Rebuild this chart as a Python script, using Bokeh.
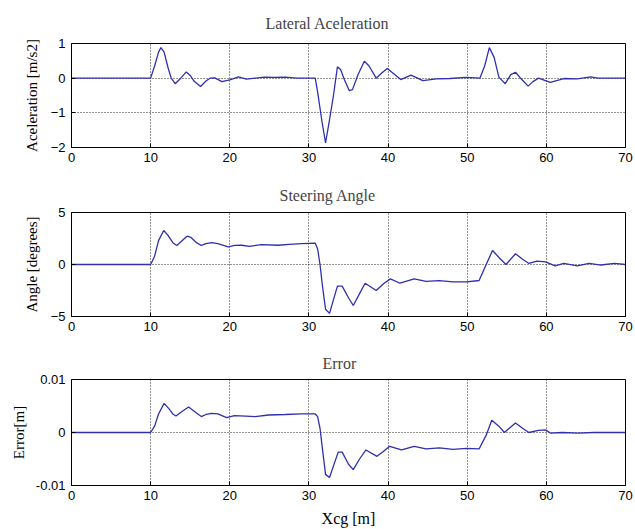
from bokeh.plotting import figure
from bokeh.layouts import column
from bokeh.models import Range1d, FixedTicker
from bokeh.embed import file_html
from bokeh.resources import INLINE

# Longitudinal position of the vehicle's centre of gravity [m]
acc_x = [0, 10, 10.5, 11.0, 11.3, 11.7, 12.2, 12.6, 13.1, 13.8, 14.5, 15.0, 15.5, 16.3, 17.0,
         17.5, 18.1, 19.0, 20.0, 21.1, 22.1, 23.2, 24.4, 25.5, 27.0, 28.5, 30.0, 30.8, 31.1,
         31.65, 32.1, 32.6, 33.1, 33.6, 34.0, 34.5, 35.1, 35.5, 36.2, 37.0, 37.6, 38.5, 39.2,
         39.9, 40.6, 41.6, 42.9, 44.4, 46.1, 47.8, 49.9, 51.6, 52.2, 52.8, 53.4, 54.0, 54.8,
         55.5, 56.1, 56.9, 57.7, 58.3, 59.0, 60.5, 62.2, 63.9, 65.6, 66.5, 70]
acc_y = [0, 0, 0.35, 0.75, 0.88, 0.75, 0.3, 0.0, -0.16, 0.0, 0.18, 0.08, -0.09, -0.24, -0.08,
         0.0, 0.01, -0.1, -0.05, 0.04, -0.03, 0.0, 0.03, 0.02, 0.03, 0.0, 0.0, 0.0, -0.4,
         -1.25, -1.87, -1.2, -0.5, 0.33, 0.25, -0.05, -0.36, -0.33, 0.1, 0.49, 0.35, 0.0, 0.15,
         0.28, 0.15, -0.04, 0.09, -0.07, -0.02, -0.01, 0.02, 0.0, 0.35, 0.88, 0.6, 0.03, -0.16,
         0.1, 0.17, -0.04, -0.23, -0.1, 0.0, -0.12, -0.01, -0.02, 0.04, 0.0, 0.0]

steer_x = [0, 10, 10.5, 11.0, 11.65, 12.2, 12.8, 13.3, 14.0, 14.6, 15.1, 15.8, 16.4, 17.0, 17.7,
           18.5, 19.8, 20.6, 21.5, 22.5, 24.0, 26.1, 27.5, 29.1, 30.8, 31.1, 31.4, 31.7, 32.1,
           32.6, 33.6, 34.2, 35.0, 35.6, 36.4, 37.1, 38.5, 39.5, 40.3, 41.5, 43.3, 44.8, 46.5,
           48.2, 49.9, 51.5, 52.4, 53.2, 54.1, 54.9, 56.1, 57.0, 57.8, 58.8, 59.9, 61.1, 62.2,
           63.9, 65.4, 66.9, 68.6, 70]
steer_y = [0, 0, 0.8, 2.3, 3.27, 2.8, 2.1, 1.83, 2.3, 2.72, 2.6, 2.1, 1.83, 2.0, 2.1,
           2.0, 1.7, 1.83, 1.85, 1.75, 1.92, 1.85, 1.93, 2.0, 2.05, 1.5, 0.0, -2.0, -4.3,
           -4.7, -2.08, -2.08, -3.2, -3.94, -2.8, -1.8, -2.5, -1.8, -1.38, -1.8, -1.38, -1.63, -1.55,
           -1.67, -1.67, -1.54, 0.0, 1.35, 0.6, 0.0, 1.03, 0.5, 0.1, 0.32, 0.25, -0.13, 0.1,
           -0.13, 0.1, -0.05, 0.1, 0.0]

err_x = [0, 10, 10.5, 11.0, 11.7, 12.3, 12.8, 13.2, 14.0, 14.8, 15.5, 16.4, 17.0, 17.7, 18.5,
         19.6, 20.6, 22.0, 23.2, 24.9, 27.0, 29.0, 30.8, 31.1, 31.4, 31.7, 32.1, 32.6, 33.7,
         34.2, 35.0, 35.6, 36.4, 37.2, 38.6, 39.4, 40.2, 41.7, 43.3, 44.8, 46.5, 48.2, 49.9,
         51.5, 52.4, 53.1, 54.0, 54.7, 56.1, 57.0, 57.8, 59.0, 59.9, 60.5, 62, 64, 66, 68, 70]
err_y = [0, 0, 0.0012, 0.0035, 0.0055, 0.0045, 0.0035, 0.0031, 0.0040, 0.0048, 0.0040, 0.0030,
         0.0034, 0.0036, 0.0035, 0.0028, 0.0032, 0.0031, 0.0030, 0.0033, 0.0034, 0.0035, 0.0035,
         0.0030, 0.0008, -0.003, -0.0079, -0.0085, -0.0037, -0.0037, -0.006, -0.0070, -0.0050,
         -0.0033, -0.0045, -0.0036, -0.0026, -0.0033, -0.0026, -0.0031, -0.0029, -0.0032, -0.003,
         -0.0031, -0.0005, 0.0023, 0.0012, 0.0, 0.0018, 0.0008, 0.0, 0.0004, 0.0005, -0.0001,
         0.0, -0.0001, 0.0, 0.0, 0.0]

x_ticks = [0, 10, 20, 30, 40, 50, 60, 70]
acc_ticks = [-2, -1, 0, 1]
steer_ticks = [-5, 0, 5]
err_ticks = [-0.01, 0, 0.01]
err_tick_labels = ["-0.01", "0", "0.01"]

LINE = "#2f2fb0"
SERIF = "Liberation Serif"
SANS = "Liberation Sans"
W = 635
LEFT, RIGHT = 71, 10


def panel(title, ylabel, xs, ys, yr, yticks, top, frame_h, bottom, label_standoff,
          title_offset, title_standoff, xlabel=None, ylabels=None):
    p = figure(width=W, height=top + frame_h + bottom, output_backend="svg",
               toolbar_location=None, x_range=Range1d(0, 70), y_range=Range1d(*yr),
               min_border_left=LEFT, min_border_right=RIGHT,
               min_border_top=top, min_border_bottom=bottom)
    p.title.text = title
    p.title.text_font = SERIF
    p.title.text_font_size = "16px"
    p.title.text_font_style = "normal"
    p.title.align = "left"
    p.title.offset = title_offset
    p.title.standoff = title_standoff
    p.outline_line_color = "black"
    p.outline_line_width = 1
    p.line(xs, ys, line_color=LINE, line_width=1.3)

    p.xaxis.ticker = FixedTicker(ticks=x_ticks)
    p.yaxis.ticker = FixedTicker(ticks=yticks)
    for ax in (p.xaxis, p.yaxis):
        ax.major_tick_in = 4
        ax.major_tick_out = 0
        ax.minor_tick_line_color = None
        ax.axis_line_color = "black"
        ax.major_tick_line_color = "black"
        ax.major_label_text_font = SANS
        ax.major_label_text_font_size = "13px"
        ax.major_label_text_color = "black"
        ax.axis_label_text_font = SERIF
        ax.axis_label_text_font_size = "15px"
        ax.axis_label_text_font_style = "normal"
        ax.axis_label_text_color = "black"
    p.xaxis.major_label_standoff = 5
    p.yaxis.major_label_standoff = 6
    p.yaxis.axis_label = ylabel
    p.yaxis.axis_label_standoff = label_standoff
    if ylabels is not None:
        p.yaxis.major_label_overrides = {t: s for t, s in zip(yticks, ylabels)}
    if xlabel:
        p.xaxis.axis_label = xlabel
        p.xaxis.axis_label_text_font_size = "16px"
        p.xaxis.axis_label_standoff = 7

    for g in (p.xgrid, p.ygrid):
        g.grid_line_color = "black"
        g.grid_line_dash = "1 2"
        g.grid_line_width = 1
        g.grid_line_alpha = 0.85
    p.background_fill_color = "white"
    p.border_fill_color = "white"
    return p


p1 = panel("Lateral Aceleration", "Aceleration [m/s2]", acc_x, acc_y, (-2, 1), acc_ticks,
           43, 104, 29, 8, 194, 24)
p2 = panel("Steering Angle", "Angle [degrees]", steer_x, steer_y, (-5, 5), steer_ticks,
           36, 104, 29, 8, 208, 17)
p3 = panel("Error", "Error[m]", err_x, err_y, (-0.01, 0.01), err_ticks,
           34, 106, 44, 6, 251, 15, xlabel="Xcg [m]", ylabels=err_tick_labels)

layout = column(p1, p2, p3, spacing=0)
open("out.html", "w").write(file_html(layout, INLINE))
